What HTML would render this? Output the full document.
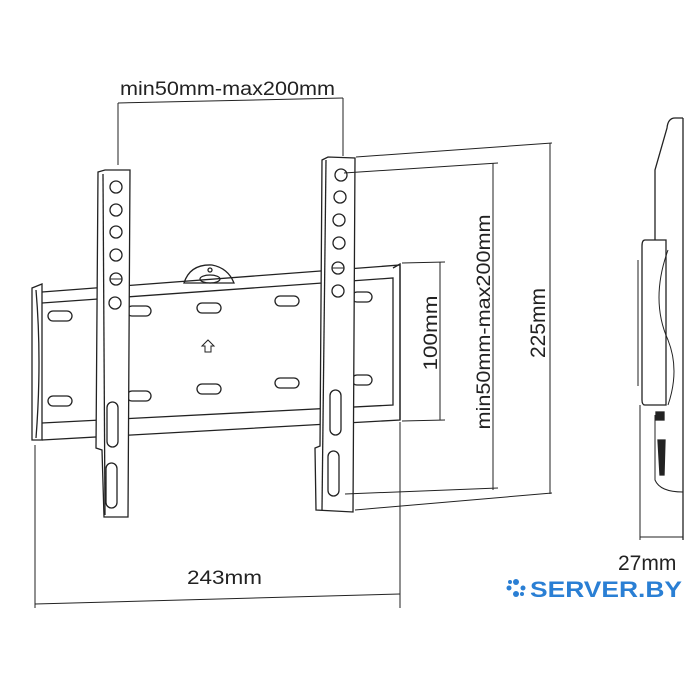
<!DOCTYPE html>
<html><head><style>body{margin:0;background:#fff}svg{display:block}text{font-family:"Liberation Sans",sans-serif;fill:#222}</style></head><body>
<svg width="685" height="685" viewBox="0 0 685 685" xmlns="http://www.w3.org/2000/svg">
<g fill="none" stroke="#222" stroke-width="1.3">
<line x1="118" y1="103" x2="343" y2="98" stroke-width="1"/>
<line x1="118" y1="103" x2="118" y2="165" stroke-width="1"/>
<line x1="343" y1="98" x2="343" y2="156" stroke-width="1"/>
<path d="M32 288 L42 284 L42 440 L32 440 Z"/>
<path d="M42 292 L400 265 L400 420 L42 440"/>
<path d="M42 303 L393 278 L393 405 L42 423"/>
<path d="M36 290 Q42 360 36 438"/>
<path d="M393 268 L400 264 L400 420"/>
<rect x="48" y="311" width="24" height="10" rx="5"/>
<rect x="127" y="306" width="24" height="10" rx="5"/>
<rect x="197" y="303" width="24" height="10" rx="5"/>
<rect x="275" y="296" width="24" height="10" rx="5"/>
<rect x="352" y="292" width="20" height="10" rx="5"/>
<rect x="48" y="396" width="24" height="10" rx="5"/>
<rect x="127" y="391" width="24" height="10" rx="5"/>
<rect x="197" y="384" width="24" height="10" rx="5"/>
<rect x="275" y="378" width="24" height="10" rx="5"/>
<rect x="352" y="375" width="20" height="10" rx="5"/>
<path d="M184 283 Q190 264 212 265 Q228 268 234 283 Z"/>
<ellipse cx="210" cy="279" rx="10" ry="4"/>
<circle cx="210" cy="270" r="2"/>
<path d="M205 352 L205 346 L202 346 L208 340 L214 346 L211 346 L211 352 Z" stroke-width="1"/>
<path d="M98 172 L105 170 L130 170 L128 517 L104 517 L102 450 L96 448 Z" fill="#fff"/>
<line x1="103" y1="174" x2="105" y2="515"/>
<circle cx="116" cy="187" r="6"/><circle cx="116" cy="210" r="6"/><circle cx="116" cy="232" r="6"/><circle cx="116" cy="255" r="6"/><circle cx="116" cy="279" r="6"/><circle cx="115" cy="303" r="6"/>
<line x1="110" y1="279" x2="122" y2="279" stroke-width="1"/>
<rect x="107" y="402" width="11" height="45" rx="5.5"/>
<rect x="106" y="463" width="11" height="45" rx="5.5"/>
<path d="M322 160 L328 157 L355 158 L353 512 L316 510 L315 448 L320 446 Z" fill="#fff"/>
<line x1="326" y1="160" x2="322" y2="510"/>
<circle cx="341" cy="175" r="6"/><circle cx="340" cy="197" r="6"/><circle cx="339" cy="220" r="6"/><circle cx="339" cy="243" r="6"/><circle cx="338" cy="268" r="6"/><circle cx="338" cy="291" r="6"/>
<line x1="332" y1="268" x2="344" y2="268" stroke-width="1"/>
<rect x="330" y="390" width="11" height="45" rx="5.5"/>
<rect x="328" y="451" width="11" height="45" rx="5.5"/>
<g stroke-width="1">
<line x1="356" y1="157" x2="552" y2="143"/>
<line x1="344" y1="173" x2="498" y2="163"/>
<line x1="402" y1="263" x2="445" y2="262"/>
<line x1="402" y1="421" x2="445" y2="420"/>
<line x1="345" y1="494" x2="498" y2="488"/>
<line x1="355" y1="510" x2="552" y2="493"/>
<line x1="440" y1="262" x2="440" y2="420"/>
<line x1="493" y1="163" x2="493" y2="490"/>
<line x1="550" y1="143" x2="550" y2="494"/>
<line x1="35" y1="445" x2="35" y2="608"/>
<line x1="400" y1="422" x2="400" y2="608"/>
<line x1="35" y1="604" x2="400" y2="594"/>
</g>
<path d="M683 118 L675 118 Q668 118 667 128 L655 170 L655 240"/>
<path d="M683 118 L683 540"/>
<path d="M645 240 L666 240 L666 405 L645 405 Q642 405 642 400 L642 246 Q642 240 645 240"/>
<path d="M638 260 L638 386" stroke-width="1"/>
<path d="M668 250 Q650 300 668 340 Q680 370 668 405" stroke-width="1"/>
<path d="M655 415 L655 480 Q660 492 683 492" stroke-width="1"/>
<path d="M658 440 L665 440 L664 475 L660 475 Z" fill="#222"/>
<rect x="656" y="412" width="8" height="8" fill="#222"/>
<line x1="640" y1="405" x2="640" y2="540" stroke-width="1"/>
<line x1="640" y1="537" x2="683" y2="537" stroke-width="1"/>
</g>
<text x="120" y="95" font-size="19" textLength="215" lengthAdjust="spacingAndGlyphs">min50mm-max200mm</text>
<text x="187" y="584" font-size="19" textLength="75" lengthAdjust="spacingAndGlyphs">243mm</text>
<text transform="translate(437,333) rotate(-90)" font-size="19" text-anchor="middle" textLength="75" lengthAdjust="spacingAndGlyphs">100mm</text>
<text transform="translate(490,322) rotate(-90)" font-size="19" text-anchor="middle" textLength="215" lengthAdjust="spacingAndGlyphs">min50mm-max200mm</text>
<text transform="translate(545,323) rotate(-90)" font-size="21" text-anchor="middle">225mm</text>
<text x="618" y="570" font-size="21">27mm</text>
<g fill="#2a7fd4">
<circle cx="516" cy="582" r="3"/><circle cx="516" cy="594" r="3"/><circle cx="509" cy="588" r="2.5"/><circle cx="523" cy="588" r="2.5"/>
<circle cx="510" cy="582" r="2"/><circle cx="522" cy="594" r="2"/>
</g>
<text x="530" y="597" font-size="22" font-weight="bold" style="fill:#2a7fd4" textLength="152" lengthAdjust="spacingAndGlyphs">SERVER.BY</text>
</svg>
</body></html>
